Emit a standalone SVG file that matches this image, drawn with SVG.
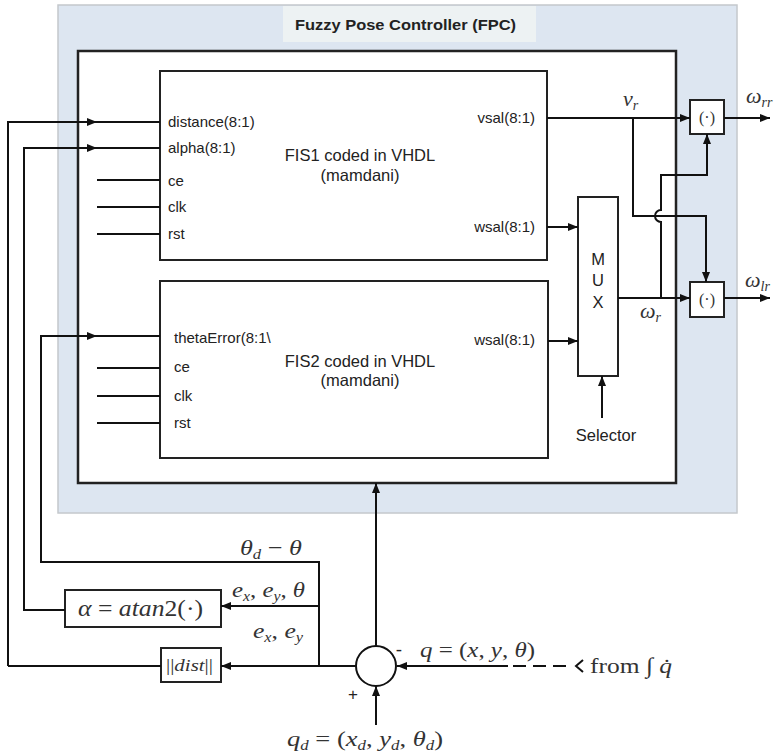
<svg xmlns="http://www.w3.org/2000/svg" width="775" height="752" viewBox="0 0 775 752">
<style>
.ln{fill:none;stroke:#111;stroke-width:2}
.bx{fill:#fff;stroke:#222;stroke-width:2}
.lbl{font-family:"Liberation Sans",Arial,sans-serif;font-size:15px;fill:#222}
.big{font-family:"Liberation Sans",Arial,sans-serif;font-size:16.5px;fill:#222}
.mth{font-family:"Liberation Serif","Times New Roman",serif;font-style:italic;font-size:22px;fill:#333}
.rm{font-style:normal}
.sb{font-size:14px}
</style>
<defs>
<marker id="ah" viewBox="0 0 10 10" refX="10" refY="5" markerWidth="10" markerHeight="10" markerUnits="userSpaceOnUse" orient="auto"><path d="M0,1 L10,5 L0,9 z" fill="#111"/></marker>
</defs>

<g id="fpc">
<rect x="58" y="5" width="679" height="508" fill="#dde6f1" stroke="#c4c8cc" stroke-width="1.5"/>
<rect x="283" y="6" width="253" height="36" fill="#edf2f3"/>
<text x="295" y="30" textLength="221" lengthAdjust="spacingAndGlyphs" style="font-family:'Liberation Sans',Arial,sans-serif;font-weight:bold;font-size:15.5px;fill:#222">Fuzzy Pose Controller (FPC)</text>
<rect x="78" y="51" width="598" height="432" fill="#fff" stroke="#222" stroke-width="2.5"/>
</g>

<g id="fis1">
<rect class="bx" x="160" y="71" width="387" height="189"/>
<text class="lbl" x="168" y="127">distance(8:1)</text>
<text class="lbl" x="168" y="153">alpha(8:1)</text>
<text class="lbl" x="168" y="186">ce</text>
<text class="lbl" x="168" y="212">clk</text>
<text class="lbl" x="168" y="239">rst</text>
<text class="lbl" x="535" y="123" text-anchor="end">vsal(8:1)</text>
<text class="lbl" x="535" y="232" text-anchor="end">wsal(8:1)</text>
<text class="big" x="360" y="161" text-anchor="middle">FIS1 coded in VHDL</text>
<text class="big" x="360" y="181" text-anchor="middle">(mamdani)</text>
</g>

<g id="fis2">
<rect class="bx" x="160" y="281" width="388" height="177"/>
<text class="lbl" x="174" y="343">thetaError(8:1\</text>
<text class="lbl" x="174" y="372">ce</text>
<text class="lbl" x="174" y="401">clk</text>
<text class="lbl" x="174" y="428">rst</text>
<text class="lbl" x="535" y="345" text-anchor="end">wsal(8:1)</text>
<text class="big" x="360" y="367" text-anchor="middle">FIS2 coded in VHDL</text>
<text class="big" x="360" y="386" text-anchor="middle">(mamdani)</text>
</g>

<g id="mux">
<rect class="bx" x="578" y="197" width="40" height="179"/>
<text class="big" x="598" y="265" text-anchor="middle">M</text>
<text class="big" x="598" y="286" text-anchor="middle">U</text>
<text class="big" x="598" y="308" text-anchor="middle">X</text>
<text class="big" x="606" y="441" text-anchor="middle">Selector</text>
</g>

<g id="mult1">
<rect class="bx" x="690" y="100" width="34" height="34"/>
<text class="mth rm" x="707" y="123" text-anchor="middle" style="font-size:16px">(·)</text>
</g>
<g id="mult2">
<rect class="bx" x="690" y="282" width="34" height="35"/>
<text class="mth rm" x="707" y="305" text-anchor="middle" style="font-size:16px">(·)</text>
</g>

<g id="atan">
<rect class="bx" x="65" y="590" width="156" height="37"/>
<text class="mth" x="78" y="616" textLength="125" lengthAdjust="spacingAndGlyphs" style="font-size:24px">α <tspan class="rm">=</tspan> atan<tspan class="rm">2(·)</tspan></text>
</g>

<g id="dist">
<rect class="bx" x="161" y="648" width="60" height="34"/>
<text class="mth" x="166" y="671" textLength="47" lengthAdjust="spacingAndGlyphs" style="font-size:16px"><tspan class="rm">||</tspan>dist<tspan class="rm">||</tspan></text>
</g>

<g id="sum">
<circle cx="376" cy="666" r="20" fill="#fff" stroke="#111" stroke-width="2"/>
<text class="lbl" x="353" y="700" text-anchor="middle" style="font-size:17px">+</text>
<text class="lbl" x="399" y="656" text-anchor="middle" style="font-size:19px">-</text>
</g>

<g id="connectors">
<path class="ln" d="M8,666 V122 H97" marker-end="url(#ah)"/>
<path class="ln" d="M95,122 H160"/>
<path class="ln" d="M65,610 H24 V148 H97" marker-end="url(#ah)"/>
<path class="ln" d="M95,148 H160"/>
<path class="ln" d="M97,180 H160 M97,207 H160 M97,234 H160"/>
<path class="ln" d="M319,666 V562 H41 V336 H97" marker-end="url(#ah)"/>
<path class="ln" d="M95,336 H160"/>
<path class="ln" d="M97,368 H160 M97,396 H160 M97,423 H160"/>
<path class="ln" d="M319,606 H221" marker-end="url(#ah)"/>
<path class="ln" d="M356,666 H221" marker-end="url(#ah)"/>
<path class="ln" d="M161,666 H8"/>
<path class="ln" d="M376,646 V483" marker-end="url(#ah)"/>
<path class="ln" d="M376,725 V686" marker-end="url(#ah)"/>
<path class="ln" d="M508,666 H397" marker-end="url(#ah)"/>
<path class="ln" d="M513,666 H570" stroke-dasharray="13,7"/>
<path class="ln" d="M583,660 L576,666 L583,672" stroke-width="2.5"/>
<path class="ln" d="M547,118 H690" marker-end="url(#ah)"/>
<path class="ln" d="M547,227 H578" marker-end="url(#ah)"/>
<path class="ln" d="M548,341 H578" marker-end="url(#ah)"/>
<path class="ln" d="M602,418 V376" marker-end="url(#ah)"/>
<path class="ln" d="M618,298 H690" marker-end="url(#ah)"/>
<path class="ln" d="M633,118 V216 H706 V282" marker-end="url(#ah)"/>
<path class="ln" d="M661,298 V222 A6,6 0 0 1 661,210 V175 H707 V134" marker-end="url(#ah)"/>
<path class="ln" d="M724,118 H770" marker-end="url(#ah)"/>
<path class="ln" d="M724,298 H770" marker-end="url(#ah)"/>
</g>

<g id="labels">
<text class="mth" x="623" y="106">v<tspan dy="4" class="sb">r</tspan></text>
<text class="mth" x="640" y="318">ω<tspan dy="4" class="sb">r</tspan></text>
<text class="mth" x="746" y="103">ω<tspan dy="4" class="sb">rr</tspan></text>
<text class="mth" x="745" y="287">ω<tspan dy="4" class="sb">lr</tspan></text>
<text class="mth" x="240" y="555" textLength="62" lengthAdjust="spacingAndGlyphs">θ<tspan dy="4" class="sb">d</tspan><tspan dy="-4" class="rm"> − </tspan>θ</text>
<text class="mth" x="232" y="597" textLength="73" lengthAdjust="spacingAndGlyphs">e<tspan dy="4" class="sb">x</tspan><tspan dy="-4" class="rm">, </tspan>e<tspan dy="4" class="sb">y</tspan><tspan dy="-4" class="rm">, </tspan>θ</text>
<text class="mth" x="253" y="638" textLength="50" lengthAdjust="spacingAndGlyphs">e<tspan dy="4" class="sb">x</tspan><tspan dy="-4" class="rm">, </tspan>e<tspan dy="4" class="sb">y</tspan></text>
<text class="mth" x="420" y="657" textLength="115" lengthAdjust="spacingAndGlyphs">q <tspan class="rm">= (</tspan>x<tspan class="rm">, </tspan>y<tspan class="rm">, </tspan>θ<tspan class="rm">)</tspan></text>
<text class="mth" x="590" y="673" textLength="82" lengthAdjust="spacingAndGlyphs"><tspan class="rm">from  ∫ </tspan>q̇</text>
<text class="mth" x="287" y="746" textLength="156" lengthAdjust="spacingAndGlyphs">q<tspan dy="4" class="sb">d</tspan><tspan dy="-4" class="rm"> = (</tspan>x<tspan dy="4" class="sb">d</tspan><tspan dy="-4" class="rm">, </tspan>y<tspan dy="4" class="sb">d</tspan><tspan dy="-4" class="rm">, </tspan>θ<tspan dy="4" class="sb">d</tspan><tspan dy="-4" class="rm">)</tspan></text>
</g>
</svg>
